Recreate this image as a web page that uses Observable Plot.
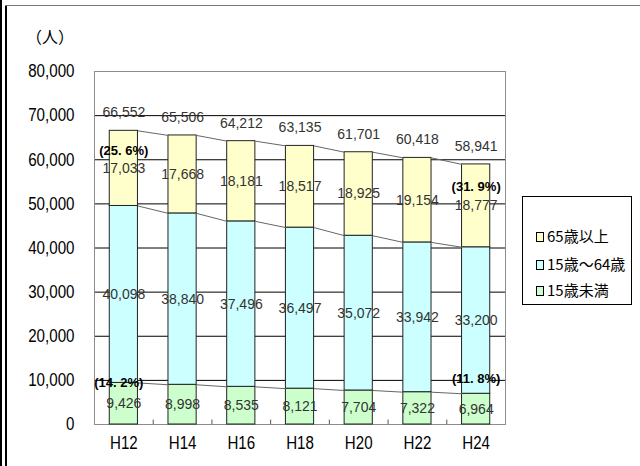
<!DOCTYPE html>
<html><head><meta charset="utf-8">
<script src="https://cdn.jsdelivr.net/npm/d3@7"></script>
<script src="https://cdn.jsdelivr.net/npm/@observablehq/plot@0.6"></script>
<style>
body{margin:0;background:#fff;}
#wrap{position:relative;width:640px;height:466px;overflow:hidden;background:#fff;}
#wrap svg{position:absolute;left:0;top:0;}
.bl{position:absolute;background:#000;}
#unit{position:absolute;left:26px;top:24px;font:16px "Noto Sans CJK JP",sans-serif;color:#000;}
#legend{position:absolute;left:522px;top:196px;width:110px;height:109px;border:1px solid #000;background:#fff;box-sizing:border-box;font:15px "Noto Sans CJK JP",sans-serif;color:#000;}
#legend .it{position:absolute;left:13px;height:20px;line-height:20px;white-space:nowrap;}
#legend .sw{display:inline-block;width:6px;height:8px;border:1px solid #000;margin-right:3px;vertical-align:0px;}
</style></head><body><div id="wrap">
<div class="bl" style="left:0;top:0;width:2px;height:466px"></div>
<div class="bl" style="left:5px;top:5px;width:2px;height:461px"></div>
<div class="bl" style="left:5px;top:5px;width:635px;height:1px;background:#777"></div>
<div id="unit">（人）</div>
</div>
<script>
const years = ["H12","H14","H16","H18","H20","H22","H24"];
const under15 = [9426,8998,8535,8121,7704,7322,6964];
const age15to64 = [40098,38840,37496,36497,35072,33942,33200];
const over65 = [17033,17668,18181,18517,18925,19154,18777];
const totals = [66552,65506,64212,63135,61701,60418,58941];
const groups = ["15歳未満","15歳～64歳","65歳以上"];
const colors = ["#CCFFCC","#CCFFFF","#FFFFCC"];
const yTicks = [0,10000,20000,30000,40000,50000,60000,70000,80000];
const pctYears = ["H12","H24"];
const pctOver65 = ["(25. 6%)","(31. 9%)"];
const pctUnder15 = ["(14. 2%)","(11. 8%)"];

const fmt = d3.format(",");
const idx = d3.range(years.length);
const series = [under15, age15to64, over65];
const segs = [];
idx.forEach(i => {
  let lo = 0;
  series.forEach((arr, g) => { segs.push({i, group: groups[g], lo, hi: lo + arr[i], v: arr[i]}); lo += arr[i]; });
});
const levels = idx.map(i => [under15[i], under15[i] + age15to64[i], under15[i] + age15to64[i] + over65[i]]);
const half = 0.24;
const links = [];
for (let i = 0; i < idx.length - 1; i++) for (let k = 0; k < 3; k++)
  links.push({x1: i + half, x2: i + 1 - half, y1: levels[i][k], y2: levels[i + 1][k]});
const pIdx = pctYears.map(y => years.indexOf(y));
const valFont = '"Liberation Sans", Arial, sans-serif';

const chart = Plot.plot({
  width: 640, height: 466,
  marginLeft: 94, marginRight: 135, marginTop: 71, marginBottom: 42,
  style: {fontFamily: '"Liberation Sans",Arial,sans-serif', fontSize: "18px", color: "#000", background: "transparent", overflow: "visible"},
  x: {domain: [-0.5, years.length - 0.5], axis: null},
  y: {domain: [0, 80000], ticks: yTicks, tickFormat: fmt, tickSize: 0, tickPadding: 20, label: null},
  color: {domain: groups, range: colors},
  marks: [
    Plot.ruleY(yTicks.filter(v => v > 0 && v < 80000), {stroke: "#000", strokeWidth: 1}),
    Plot.frame({stroke: "#8c8c8c"}),
    Plot.ruleX(d3.range(0.5, years.length - 1, 1), {y1: 0, y2: 1000, stroke: "#555"}),
    Plot.rect(segs, {x1: d => d.i - half, x2: d => d.i + half, y1: "lo", y2: "hi", fill: "group", stroke: "#222", strokeWidth: 1}),
    Plot.link(links, {x1: "x1", x2: "x2", y1: "y1", y2: "y2", stroke: "#666", strokeWidth: 1}),
    Plot.text(segs, {x: "i", y: d => (d.lo + d.hi) / 2, text: d => fmt(d.v), fontSize: 14, fontFamily: valFont, fill: "#333"}),
    Plot.text(idx, {x: i => i, y: i => levels[i][2], dy: -18, text: i => fmt(totals[i]), fontSize: 14, fontFamily: valFont, fill: "#333"}),
    Plot.text(idx, {x: i => i, frameAnchor: "bottom", dy: 24, text: i => years[i], fontSize: 18, fill: "#000"}),
    Plot.text([0], {x: () => pIdx[0], y: () => levels[pIdx[0]][2], dy: 20, text: () => pctOver65[0], fontSize: 13, fontWeight: "bold", fontFamily: valFont, fill: "#000"}),
    Plot.text([1], {x: () => pIdx[1], y: () => levels[pIdx[1]][2], dy: 22, text: () => pctOver65[1], fontSize: 13, fontWeight: "bold", fontFamily: valFont, fill: "#000"}),
    Plot.text([0], {x: () => pIdx[0], y: () => levels[pIdx[0]][0], dy: 0, dx: -5, text: () => pctUnder15[0], fontSize: 13, fontWeight: "bold", fontFamily: valFont, fill: "#000"}),
    Plot.text([1], {x: () => pIdx[1], y: () => levels[pIdx[1]][0], dy: -15, text: () => pctUnder15[1], fontSize: 13, fontWeight: "bold", fontFamily: valFont, fill: "#000"})
  ]
});
const wrap = document.getElementById("wrap");
wrap.insertBefore(chart, wrap.firstChild);

// condense the axis-style labels (reference uses a narrow face)
const axisTexts = new Set([...yTicks.map(fmt), ...years]);
chart.querySelectorAll("text").forEach(t => {
  if (t.querySelector("tspan")) return;
  if (axisTexts.has(t.textContent)) {
    const w = t.getComputedTextLength();
    t.setAttribute("textLength", (w * 0.84).toFixed(1));
    t.setAttribute("lengthAdjust", "spacingAndGlyphs");
  }
});

const legend = document.createElement("div");
legend.id = "legend";
const order = [2, 1, 0];
const tops = [39, 67, 93];
order.forEach((g, k) => {
  const it = document.createElement("div");
  it.className = "it";
  it.style.top = (tops[k] - 10) + "px";
  const sw = document.createElement("span");
  sw.className = "sw";
  sw.style.background = colors[g];
  it.appendChild(sw);
  it.appendChild(document.createTextNode(groups[g]));
  legend.appendChild(it);
});
wrap.appendChild(legend);
</script>
</body></html>
